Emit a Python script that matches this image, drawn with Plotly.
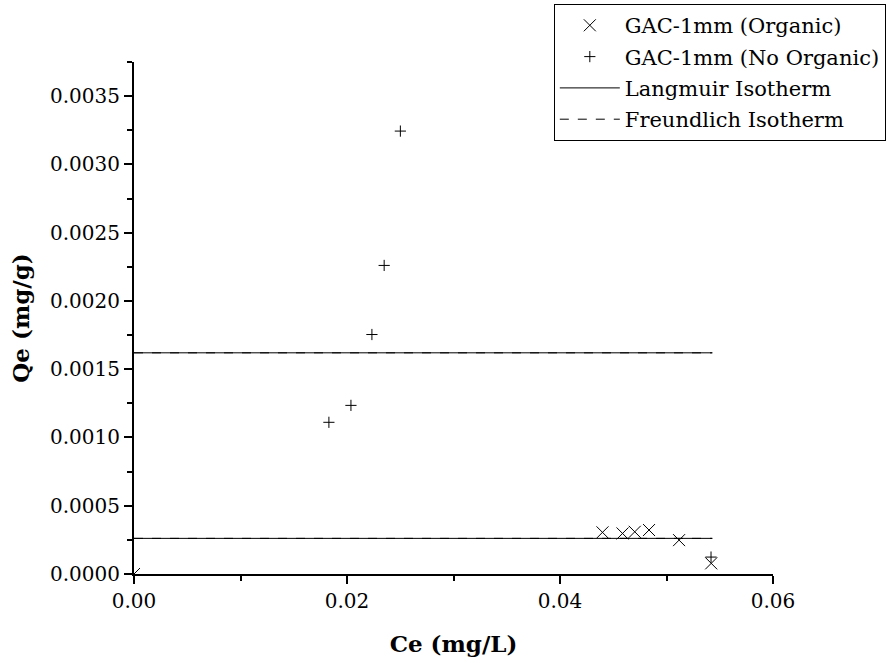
import plotly.graph_objects as go

# Equilibrium data: Ce (mg/L) vs Qe (mg/g)
ce_organic = [0.0, 0.04399, 0.04587, 0.04702, 0.04836, 0.05118, 0.05420]
qe_organic = [0.0, 0.000305, 0.000297, 0.000309, 0.000322, 0.000248, 0.000078]

ce_no_organic = [0.01830, 0.02037, 0.02234, 0.02349, 0.02501, 0.05418]
qe_no_organic = [0.001111, 0.001235, 0.001754, 0.002260, 0.003244, 0.000124]

# Fitted isotherms (flat over the measured range)
fit_ce = [0.0, 0.0543]
langmuir_no_organic = [0.00162, 0.00162]
langmuir_organic = [0.000261, 0.000261]
freundlich_no_organic = [0.00162, 0.00162]
freundlich_organic = [0.000261, 0.000261]

FONT = "DejaVu Serif"
BLACK = "black"

fig = go.Figure()

fig.add_trace(go.Scatter(
    x=ce_organic, y=qe_organic, mode="markers", name="GAC-1mm (Organic)",
    marker=dict(symbol="x-thin", size=12, line=dict(color=BLACK, width=1), color=BLACK),
    cliponaxis=True, legendgroup="org",
))
fig.add_trace(go.Scatter(
    x=ce_no_organic, y=qe_no_organic, mode="markers", name="GAC-1mm (No Organic)",
    marker=dict(symbol="cross-thin", size=8, line=dict(color=BLACK, width=1), color=BLACK),
    cliponaxis=True, legendgroup="noorg",
))
fig.add_trace(go.Scatter(
    x=fit_ce, y=langmuir_no_organic, mode="lines", name="Langmuir Isotherm",
    line=dict(color=BLACK, width=1), legendgroup="lang",
))
fig.add_trace(go.Scatter(
    x=fit_ce, y=langmuir_organic, mode="lines", name="Langmuir Isotherm",
    line=dict(color=BLACK, width=1), legendgroup="lang", showlegend=False,
))
fig.add_trace(go.Scatter(
    x=fit_ce, y=freundlich_no_organic, mode="lines", name="Freundlich Isotherm",
    line=dict(color=BLACK, width=1, dash="dash"), legendgroup="freu",
))
fig.add_trace(go.Scatter(
    x=fit_ce, y=freundlich_organic, mode="lines", name="Freundlich Isotherm",
    line=dict(color=BLACK, width=1, dash="dash"), legendgroup="freu", showlegend=False,
))

axis_common = dict(
    showline=True, linecolor=BLACK, linewidth=2, mirror=False,
    showgrid=False, zeroline=False,
    ticks="outside", ticklen=8, tickwidth=1.5, tickcolor=BLACK,
    tickfont=dict(family=FONT, size=20, color=BLACK),
)

fig.update_xaxes(
    **axis_common,
    range=[0, 0.06], dtick=0.02, tick0=0, tickformat=".2f",
    minor=dict(dtick=0.01, ticks="outside", ticklen=5, tickwidth=1.5, tickcolor=BLACK),
    title=dict(text="<b>Ce (mg/L)</b>", font=dict(family=FONT, size=23, color=BLACK), standoff=24),
)
fig.update_yaxes(
    **axis_common,
    range=[0, 0.00375], dtick=0.0005, tick0=0, tickformat=".4f",
    minor=dict(dtick=0.00025, ticks="outside", ticklen=5, tickwidth=1.5, tickcolor=BLACK),
    title=dict(text="<b>Qe (mg/g)</b>", font=dict(family=FONT, size=23, color=BLACK), standoff=14),
)

fig.update_layout(
    width=891, height=663,
    margin=dict(l=134, r=118, t=62, b=89, autoexpand=False),
    paper_bgcolor="white", plot_bgcolor="white",
    font=dict(family=FONT, color=BLACK),
    showlegend=True,
    legend=dict(
        x=0.657, y=1.113, xanchor="left", yanchor="top",
        bgcolor="white", bordercolor=BLACK, borderwidth=1,
        font=dict(family=FONT, size=21, color=BLACK),
        itemwidth=60, tracegroupgap=1,
    ),
)

fig.write_html("out.html")
